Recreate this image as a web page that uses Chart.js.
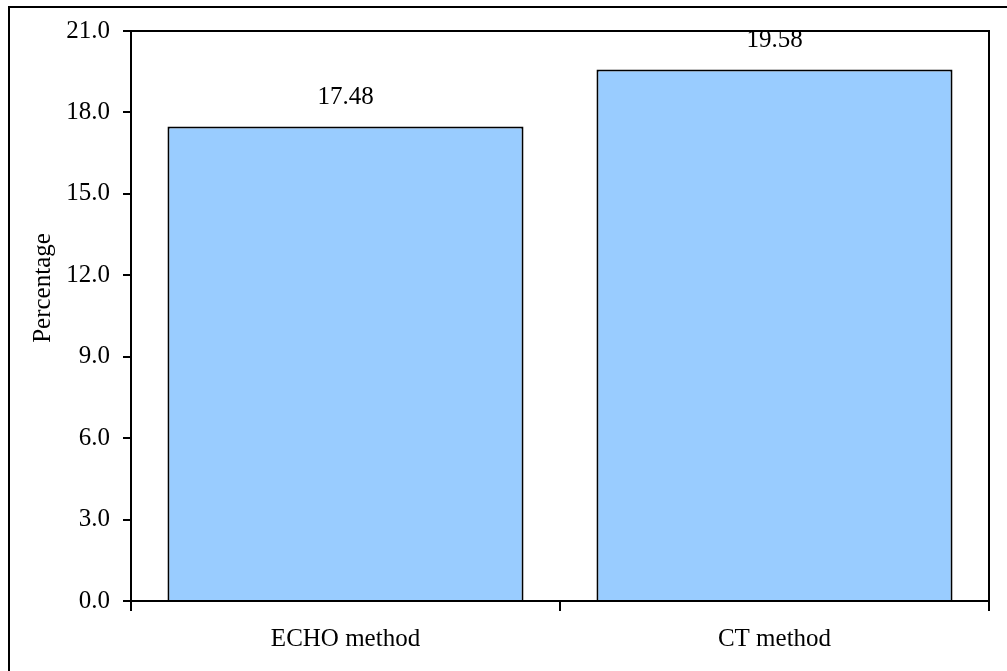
<!DOCTYPE html>
<html>
<head>
<meta charset="utf-8">
<script src="https://cdn.jsdelivr.net/npm/chart.js@4/dist/chart.umd.min.js"></script>
<style>
  html, body { margin: 0; padding: 0; background: #fff; }
  #wrap { width: 1007px; height: 671px; }
</style>
</head>
<body>
<div id="wrap"><canvas id="c" width="1007" height="671"></canvas></div>
<script>
// Chart data
const categories = ["ECHO method", "CT method"];
const percentages = [17.48, 19.58];
const valueLabels = ["17.48", "19.58"];
const yTitle = "Percentage";

const FONT = "'Liberation Serif', 'Times New Roman', serif";
const FONT_SIZE = 25;

// Frame around the whole figure plus the top/right edges of the plot box
const framePlugin = {
  id: 'frame',
  afterDraw(chart) {
    const ctx = chart.ctx;
    const a = chart.chartArea;
    ctx.save();
    ctx.strokeStyle = '#000';
    ctx.lineWidth = 2;
    ctx.strokeRect(9, 7, chart.width + 10, chart.height + 10);
    ctx.beginPath();
    ctx.moveTo(a.left, a.top);
    ctx.lineTo(a.right, a.top);
    ctx.lineTo(a.right, a.bottom);
    ctx.stroke();
    ctx.restore();
  }
};

// Value labels above each bar and the rotated y-axis title
const labelPlugin = {
  id: 'valueLabels',
  afterDatasetsDraw(chart) {
    const ctx = chart.ctx;
    const meta = chart.getDatasetMeta(0);
    ctx.save();
    ctx.fillStyle = '#000';
    ctx.font = FONT_SIZE + 'px ' + FONT;
    ctx.textAlign = 'center';
    ctx.textBaseline = 'alphabetic';
    meta.data.forEach((bar, i) => {
      ctx.fillText(valueLabels[i], bar.x, bar.y - 23);
    });
    ctx.translate(43, 288);
    ctx.rotate(-Math.PI / 2);
    ctx.textBaseline = 'middle';
    ctx.fillText(yTitle, 0, 0);
    ctx.restore();
  }
};

new Chart(document.getElementById('c'), {
  type: 'bar',
  data: {
    labels: categories,
    datasets: [{
      data: percentages,
      backgroundColor: '#99CCFF',
      borderColor: '#000',
      borderWidth: 2,
      borderSkipped: 'bottom',
      categoryPercentage: 1.0,
      barPercentage: 0.83
    }]
  },
  options: {
    responsive: false,
    animation: false,
    devicePixelRatio: 1,
    layout: { padding: { left: 0, top: 31, right: 18, bottom: 0 } },
    plugins: {
      legend: { display: false },
      tooltip: { enabled: false }
    },
    scales: {
      x: {
        offset: true,
        grid: {
          offset: true,
          drawOnChartArea: false,
          drawTicks: true,
          tickLength: 10,
          color: '#000',
          lineWidth: 2
        },
        border: { display: true, color: '#000', width: 2 },
        ticks: {
          color: '#000',
          font: { family: FONT, size: FONT_SIZE },
          padding: 13,
          maxRotation: 0
        },
        afterFit(scale) { scale.height = 70; }
      },
      y: {
        min: 0,
        max: 21,
        grid: {
          drawOnChartArea: false,
          drawTicks: true,
          tickLength: 8,
          color: '#000',
          lineWidth: 2
        },
        border: { display: true, color: '#000', width: 2 },
        ticks: {
          stepSize: 3,
          color: '#000',
          font: { family: FONT, size: FONT_SIZE },
          padding: 13,
          callback: (v) => Number(v).toFixed(1)
        },
        afterFit(scale) { scale.width = 131; }
      }
    }
  },
  plugins: [framePlugin, labelPlugin]
});
</script>
</body>
</html>
